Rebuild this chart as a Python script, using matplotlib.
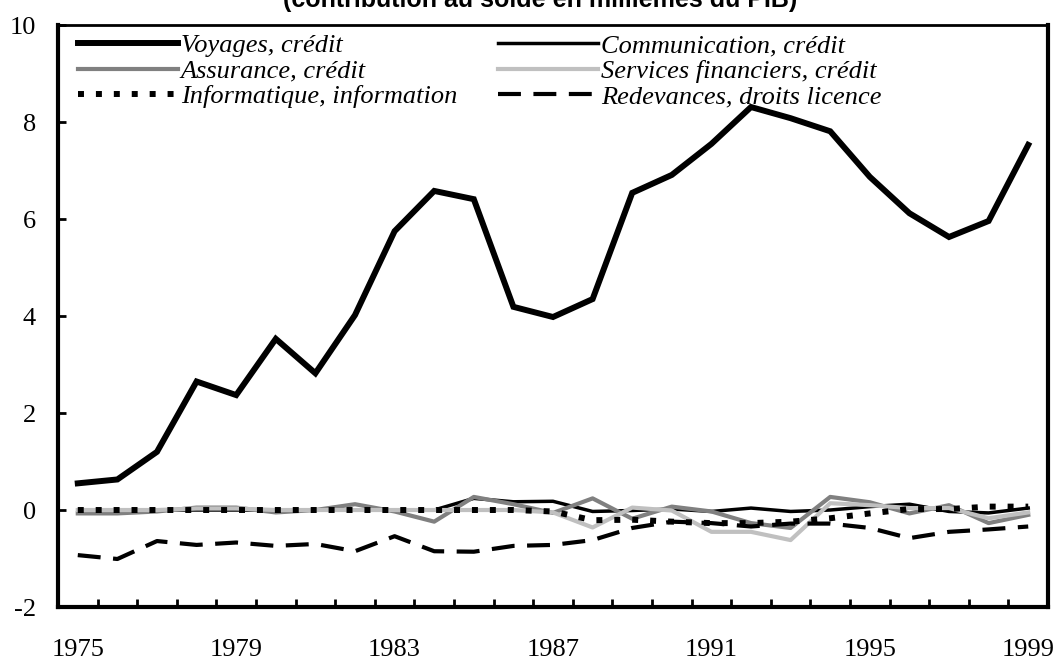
import numpy as np
import matplotlib
matplotlib.use("Agg")
import matplotlib.pyplot as plt

years = list(range(1975, 2000))

# contribution au solde, millièmes du PIB
voyages = [0.55, 0.63, 1.20, 2.65, 2.37, 3.53, 2.82, 4.02, 5.75, 6.58, 6.41, 4.19, 3.98,
           4.35, 6.54, 6.91, 7.55, 8.31, 8.08, 7.81, 6.87, 6.12, 5.63, 5.96, 7.53]
communication = [0.0, 0.0, 0.0, 0.0, 0.0, 0.0, 0.0, 0.0, 0.0, 0.0, 0.24, 0.17, 0.18,
                 -0.03, -0.01, 0.02, -0.03, 0.04, -0.03, 0.0, 0.07, 0.12, -0.03, -0.06, 0.04]
assurance = [-0.07, -0.07, -0.03, 0.05, 0.05, -0.05, 0.0, 0.12, -0.03, -0.24, 0.27, 0.12, -0.06,
             0.24, -0.18, 0.07, -0.03, -0.27, -0.37, 0.27, 0.16, -0.07, 0.10, -0.27, -0.10]
services_fin = [0.0, 0.0, 0.0, 0.03, 0.03, 0.0, 0.0, 0.0, 0.0, 0.0, 0.0, 0.0, -0.05,
                -0.36, 0.05, -0.01, -0.45, -0.45, -0.62, 0.14, 0.10, 0.04, 0.04, -0.17, -0.05]
informatique = [0.0, 0.0, 0.0, 0.0, 0.0, 0.0, 0.0, 0.0, 0.0, 0.0, 0.0, 0.0, -0.03,
                -0.21, -0.20, -0.24, -0.27, -0.27, -0.24, -0.17, -0.07, 0.02, 0.02, 0.07, 0.07]
redevances = [-0.93, -1.01, -0.64, -0.72, -0.67, -0.74, -0.70, -0.85, -0.54, -0.85, -0.86, -0.74, -0.72,
              -0.62, -0.37, -0.24, -0.27, -0.34, -0.28, -0.28, -0.37, -0.58, -0.45, -0.40, -0.34]

labels = ["Voyages, crédit", "Communication, crédit", "Assurance, crédit",
          "Services financiers, crédit", "Informatique, information", "Redevances, droits licence"]
title = "(contribution au solde en millièmes du PIB)"

serif = "Liberation Serif"

fig = plt.figure(figsize=(10.6, 6.6), dpi=100)
ax = fig.add_axes([0.0547, 0.0803, 0.934, 0.8817])
x = np.arange(len(years))

h_voy, = ax.plot(x, voyages, color="black", lw=4.3, solid_joinstyle="miter")
h_com, = ax.plot(x, communication, color="black", lw=2.5)
h_ass, = ax.plot(x, assurance, color="#808080", lw=3)
h_ser, = ax.plot(x, services_fin, color="#c0c0c0", lw=3)
h_inf, = ax.plot(x, informatique, color="black", lw=4.3, dashes=(1, 2))
h_red, = ax.plot(x, redevances, color="black", lw=3, dashes=(5.5, 3))

# legend fills column-wise, so reorder to get the reference's row layout
handles = [h_voy, h_ass, h_inf, h_com, h_ser, h_red]
leg_labels = [labels[0], labels[2], labels[4], labels[1], labels[3], labels[5]]
ax.legend(handles, leg_labels, ncol=2, loc="upper left", bbox_to_anchor=(0.02, 0.985),
          frameon=False, borderpad=0, borderaxespad=0, handlelength=3.8, handletextpad=0.1,
          columnspacing=1.55, labelspacing=0.08,
          prop={"family": serif, "style": "italic", "size": 19})

ax.set_xlim(-0.5, len(years) - 0.5)
ax.set_ylim(-2, 10)
ax.set_yticks(range(-2, 11, 2))
ax.set_yticklabels([str(v) for v in range(-2, 11, 2)])
ax.set_xticks(x[::4])
ax.set_xticklabels([str(y) for y in years[::4]])
ax.set_xticks(np.arange(0.5, len(years) - 1, 1), minor=True)

ax.tick_params(axis="x", which="major", length=0, pad=23)
ax.tick_params(axis="x", which="minor", direction="in", length=5.5, width=2)
ax.tick_params(axis="y", direction="in", length=6, width=2, pad=16)
for lab in ax.get_xticklabels() + ax.get_yticklabels():
    lab.set_fontfamily(serif)
    lab.set_fontsize(19)

for side in ["left", "right", "bottom"]:
    ax.spines[side].set_linewidth(3)
ax.spines["top"].set_linewidth(2)

# title is cropped at the top edge in the reference as well
fig.text(0.51, 1 - 7 / 660, title, ha="center", va="baseline",
         fontfamily="Liberation Sans", fontweight="bold", fontsize=18)

fig.savefig("out.png", dpi=100)
